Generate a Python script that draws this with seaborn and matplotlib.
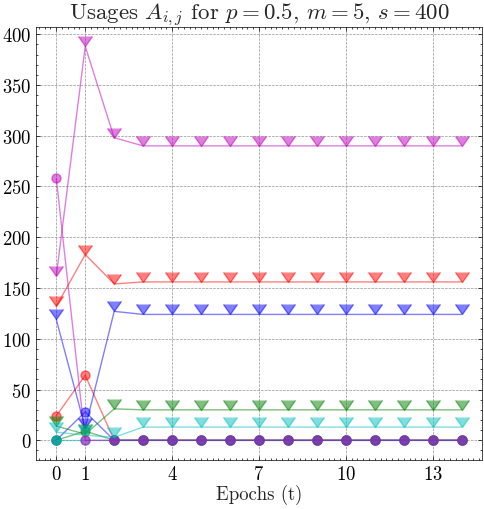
import numpy as np
import pandas as pd
import matplotlib
matplotlib.use("Agg")
import matplotlib.pyplot as plt
from matplotlib.ticker import AutoMinorLocator
import seaborn as sns

# ---------------- data ----------------
epochs = list(range(15))
xtick_values = [0, 1, 4, 7, 10, 13]
series_colors = ["r", "b", "g", "c", "m"]

# circle series (first kind of usage), one per colour
circ_r = [24, 64, 0, 0, 0, 0, 0, 0, 0, 0, 0, 0, 0, 0, 0]
circ_g = [0, 9, 0, 0, 0, 0, 0, 0, 0, 0, 0, 0, 0, 0, 0]
circ_b = [0, 28, 0, 0, 0, 0, 0, 0, 0, 0, 0, 0, 0, 0, 0]
circ_c = [0, 0, 0, 0, 0, 0, 0, 0, 0, 0, 0, 0, 0, 0, 0]
circ_m = [258, 0, 0, 0, 0, 0, 0, 0, 0, 0, 0, 0, 0, 0, 0]

# caret (down-triangle) series (second kind of usage)
tri_r = [132, 183, 154, 156, 156, 156, 156, 156, 156, 156, 156, 156, 156, 156, 156]
tri_g = [14, 6, 31, 30, 30, 30, 30, 30, 30, 30, 30, 30, 30, 30, 30]
tri_b = [119, 12, 127, 124, 124, 124, 124, 124, 124, 124, 124, 124, 124, 124, 124]
tri_c = [8, 5, 3, 13, 13, 13, 13, 13, 13, 13, 13, 13, 13, 13, 13]
tri_m = [162, 388, 298, 290, 290, 290, 290, 290, 290, 290, 290, 290, 290, 290, 290]

circles = {"r": circ_r, "g": circ_g, "b": circ_b, "c": circ_c, "m": circ_m}
triangles = {"r": tri_r, "g": tri_g, "b": tri_b, "c": tri_c, "m": tri_m}

title_text = r"Usages $A_{i,j}$ for $p=0.5$, $m=5$, $s=400$"
xlabel_text = "Epochs (t)"

rows = []
for col in series_colors:
    for t, v in zip(epochs, circles[col]):
        rows.append({"t": t, "value": v, "color": col, "kind": "o"})
    for t, v in zip(epochs, triangles[col]):
        rows.append({"t": t, "value": v, "color": col, "kind": "v"})
df = pd.DataFrame(rows)

# ---------------- style ----------------
sns.set_style("ticks")
plt.rcParams.update({
    "font.family": "serif",
    "font.serif": ["cmr10"],
    "mathtext.fontset": "cm",
    "axes.formatter.use_mathtext": True,
    "axes.unicode_minus": False,
    "xtick.direction": "in",
    "ytick.direction": "in",
    "xtick.top": True,
    "ytick.right": True,
    "xtick.major.size": 3,
    "ytick.major.size": 3,
    "xtick.minor.size": 1.5,
    "ytick.minor.size": 1.5,
    "xtick.major.width": 0.5,
    "ytick.major.width": 0.5,
    "xtick.minor.width": 0.5,
    "ytick.minor.width": 0.5,
    "axes.linewidth": 0.5,
    "axes.edgecolor": "black",
    "xtick.color": "black",
    "ytick.color": "black",
})

fig = plt.figure(figsize=(4.84, 5.10), dpi=100)
ax = fig.add_axes([0.0744, 0.0961, 0.9959 - 0.0744, 0.9457 - 0.0961])

# circles first, then carets
for kind, mk, ms in [("o", "o", 6.5), ("v", 7, 9.5)]:
    for col in series_colors:
        sub = df[(df["kind"] == kind) & (df["color"] == col)]
        sns.lineplot(data=sub, x="t", y="value", ax=ax, color=col,
                     marker=mk, markersize=ms, markeredgecolor=col,
                     markeredgewidth=1.0, linewidth=1.0, alpha=0.5,
                     legend=False)

ax.set_xticks(xtick_values)
ax.xaxis.set_minor_locator(AutoMinorLocator())
ax.yaxis.set_minor_locator(AutoMinorLocator())
ax.tick_params(axis="both", which="both", direction="in", top=True, right=True,
               labelsize=13.5)
ax.grid(True, which="major", linestyle="--", color="gray", linewidth=0.5, alpha=0.85)
ax.set_axisbelow(True)

ax.set_title(title_text, fontsize=16.5, pad=3)
ax.set_xlabel(xlabel_text, fontsize=13.5, labelpad=1)
ax.set_ylabel("")

fig.savefig("out.png", dpi=100)
